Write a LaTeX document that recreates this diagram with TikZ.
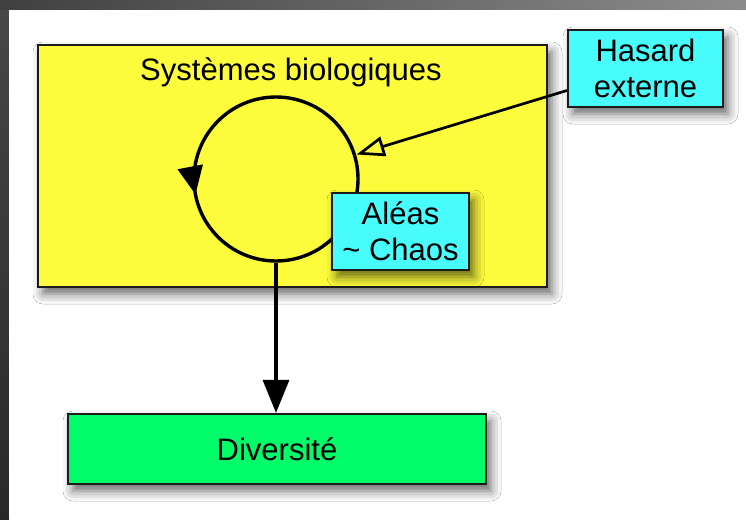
\documentclass[tikz,border=0pt]{standalone}
\usepackage{fontspec}
\setmainfont{Liberation Sans}
\usetikzlibrary{arrows.meta,shadows.blur,decorations.markings,calc}

\definecolor{boxyellow}{HTML}{FCFC3C}
\definecolor{boxcyan}{HTML}{48FCFC}
\definecolor{boxgreen}{HTML}{00FC68}
\definecolor{edge}{HTML}{1C1C1C}

\tikzset{
  label font/.style={font=\fontsize{31}{36}\selectfont},
  panel/.style={draw=edge, line width=2.2pt, inner sep=0pt, label font,
    blur shadow={shadow xshift=5pt, shadow yshift=-7pt,
                 shadow blur radius=10pt, shadow opacity=60}},
  ring/.style={draw=black, line width=3.4pt,
    decoration={markings, mark=at position 0.53 with
      {\arrow{Triangle[length=28pt,width=25pt]}}},
    postaction={decorate}},
  flow/.style={line width=3.2pt, -{Triangle[length=33pt,width=26pt]}},
  feed/.style={line width=2.7pt, -{Triangle[open,length=28pt,width=20pt,line width=2.7pt]}}
}

\begin{document}
\begin{tikzpicture}[x=1pt,y=-1pt]
  \useasboundingbox (0,0) rectangle (746,519);

  % dark frame along the top and left edges
  \shade[top color=black!72, bottom color=black!84] (0,0) rectangle (9,519);
  \shade[left color=black!75, right color=black!45] (0,0) rectangle (746,10);
  \fill[white] (9,10) rectangle (746,519);

  % main container
  \node[panel, fill=boxyellow, minimum width=509pt, minimum height=242pt]
    (bio) at (292.5,166) {};
  \node[label font, anchor=base] (biotitle) at (291,80) {Systèmes biologiques};

  % feedback loop
  \node[circle, minimum size=168pt, inner sep=0pt] (loop) at (276,179) {};
  \draw[ring] (loop.center) circle[radius=82pt];

  % external source
  \node[panel, fill=boxcyan, minimum width=155pt, minimum height=77pt, align=center]
    (hasard) at (645.5,68.5) {Hasard\\externe};
  \coordinate (hasardout) at ([yshift=-22pt]hasard.west);
  \draw[feed] (hasardout) -- (loop);

  % internal source
  \node[panel, fill=boxcyan, minimum width=137pt, minimum height=77pt, align=center]
    (chaos) at (400.5,231.5) {Aléas\\\textasciitilde{} Chaos};

  % outcome
  \node[panel, fill=boxgreen, minimum width=418pt, minimum height=70pt]
    (div) at (277,449) {Diversité};
  \draw[flow] (loop.south) -- (loop.south |- div.north);
\end{tikzpicture}
\end{document}
